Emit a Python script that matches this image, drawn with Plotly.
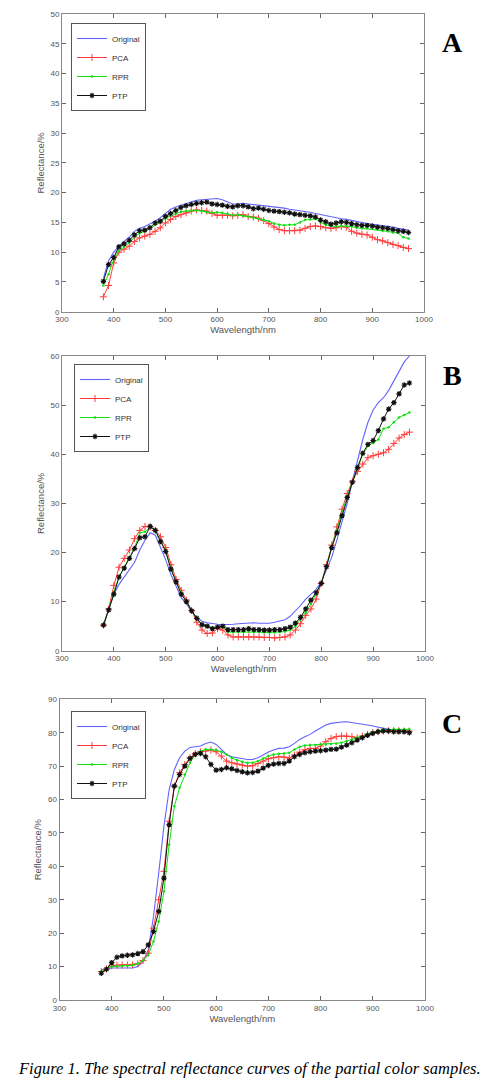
import plotly.graph_objects as go

wavelength = list(range(380, 980, 10))

# Panel A
a_original = [5.6, 8.5, 10.0, 11.0, 11.8, 12.5, 13.5, 14.0, 14.3, 14.7, 15.2, 15.8, 16.5, 17.2, 17.6, 17.9,
              18.2, 18.5, 18.7, 18.8, 18.9, 19.0, 19.0, 18.8, 18.4, 18.1, 18.1, 18.2, 18.1, 18.0, 18.0, 17.9,
              17.7, 17.6, 17.5, 17.4, 17.2, 17.1, 17.0, 16.8, 16.7, 16.5, 16.3, 16.1, 16.0, 15.8, 15.6, 15.5,
              15.3, 15.1, 15.0, 14.8, 14.7, 14.6, 14.5, 14.3, 14.2, 14.0, 13.9, 13.7]
a_pca = [2.5, 4.4, 8.2, 10.0, 10.5, 11.0, 11.8, 12.4, 12.7, 13.0, 13.5, 14.1, 14.9, 15.5, 16.0, 16.3,
         16.6, 16.9, 17.1, 17.0, 16.9, 16.5, 16.2, 16.2, 16.2, 16.1, 16.2, 16.3, 16.0, 15.9, 15.7, 15.3,
         14.8, 14.2, 13.8, 13.6, 13.6, 13.6, 13.7, 14.0, 14.3, 14.4, 14.3, 14.1, 14.0, 14.1, 14.3, 14.2,
         13.5, 13.2, 13.0, 12.9, 12.5, 12.1, 11.9, 11.6, 11.3, 11.1, 10.8, 10.6]
a_rpr = [4.4, 6.3, 8.8, 10.2, 10.9, 11.6, 12.5, 13.2, 13.5, 14.0, 14.6, 15.0, 15.7, 16.1, 16.5, 16.8,
         16.9, 17.0, 17.0, 16.9, 16.7, 16.6, 16.7, 16.6, 16.4, 16.2, 16.3, 16.1, 16.0, 15.8, 15.6, 15.4,
         15.2, 14.8, 14.6, 14.5, 14.6, 14.6, 15.0, 15.4, 15.5, 15.6, 15.0, 14.6, 14.4, 14.3, 14.4, 14.4,
         14.3, 14.1, 14.0, 14.0, 13.9, 13.8, 13.6, 13.5, 13.3, 13.2, 12.5, 12.3]
a_ptp = [5.1, 7.9, 9.1, 10.9, 11.4, 12.0, 12.9, 13.6, 13.7, 14.1, 14.9, 15.2, 16.0, 16.5, 17.0, 17.5,
         17.8, 18.0, 18.2, 18.3, 18.4, 18.1, 18.0, 17.9, 17.7, 17.6, 17.8, 17.8, 17.6, 17.3, 17.4, 17.2,
         17.0, 16.9, 16.8, 16.7, 16.6, 16.4, 16.3, 16.2, 16.1, 15.9, 15.4, 15.1, 14.7, 14.9, 15.1, 15.0,
         14.8, 14.6, 14.5, 14.5, 14.4, 14.2, 14.1, 14.0, 13.8, 13.6, 13.5, 13.3]

# Panel B
b_original = [5.3, 8.2, 11.5, 13.5, 15.0, 16.5, 18.0, 20.5, 22.5, 24.0, 23.5, 21.0, 18.5, 15.5, 13.0, 10.8,
              9.5, 8.0, 6.8, 6.0, 5.7, 5.5, 5.4, 5.3, 5.3, 5.4, 5.5, 5.6, 5.7, 5.7, 5.6, 5.6,
              5.6, 5.8, 6.0, 6.3, 7.0, 8.0, 9.2, 10.5, 11.5, 12.5, 14.0, 16.5, 19.0, 22.5, 26.0, 30.0,
              34.5, 39.0, 43.0, 46.5, 49.0, 50.5, 51.5, 53.0, 55.0, 57.0, 58.8, 60.0]
b_pca = [5.2, 8.5, 13.3, 17.0, 18.8, 20.5, 22.8, 24.5, 25.3, 25.2, 24.5, 23.2, 21.0, 17.5, 14.5, 12.3,
         10.3, 8.2, 5.8, 4.2, 3.5, 3.6, 4.5, 4.2, 3.2, 2.8, 2.8, 2.8, 2.8, 2.8, 2.8, 2.7,
         2.7, 2.6, 2.7, 2.8, 3.2, 4.2, 5.5, 7.2, 8.5, 10.5, 13.7, 17.5, 21.5, 25.2, 28.8, 32.0,
         34.5, 36.5, 38.0, 39.3, 39.7, 40.0, 40.3, 41.0, 42.2, 43.3, 44.0, 44.5]
b_rpr = [5.2, 8.2, 12.0, 15.0, 17.0, 19.0, 21.0, 24.0, 24.2, 25.2, 24.5, 22.3, 20.3, 16.8, 14.0, 11.8,
         10.0, 8.2, 6.4, 5.2, 4.8, 4.5, 4.8, 4.8, 3.8, 3.8, 3.8, 3.8, 3.9, 3.8, 3.8, 3.7,
         3.7, 3.7, 3.8, 3.9, 4.2, 5.0, 6.3, 7.8, 9.5, 11.5, 13.8, 17.2, 21.0, 24.5, 28.0, 31.5,
         34.3, 37.3, 40.0, 41.7, 42.3, 43.0, 45.2, 45.5, 46.5, 47.5, 48.0, 48.5]
b_ptp = [5.2, 8.3, 11.5, 15.0, 16.8, 18.8, 20.8, 23.0, 23.2, 25.3, 24.5, 22.2, 20.2, 16.6, 14.0, 11.5,
         10.0, 8.1, 6.6, 5.3, 5.0, 4.5, 4.8, 5.0, 4.3, 4.3, 4.3, 4.3, 4.5, 4.3, 4.3, 4.2,
         4.2, 4.3, 4.3, 4.5, 4.8, 5.6, 6.8, 8.5, 10.3, 11.8, 13.7, 17.1, 21.0, 24.0, 27.5, 31.2,
         34.3, 37.3, 40.2, 42.0, 42.8, 44.8, 47.2, 49.2, 50.5, 52.3, 54.1, 54.5]

# Panel C
c_original = [9.0, 9.3, 9.6, 9.6, 9.6, 9.6, 9.6, 10.0, 11.5, 15.0, 25.0, 38.0, 52.0, 63.0, 69.0, 72.5,
              74.5, 75.6, 75.8, 76.0, 76.8, 77.2, 76.5, 75.0, 73.5, 72.8, 72.5, 72.2, 72.0, 72.0, 72.5, 73.3,
              74.2, 74.8, 75.3, 75.4, 75.8, 76.8, 78.0, 78.8, 79.5, 80.5, 81.5, 82.3, 82.8, 83.1, 83.2, 83.3,
              83.1, 82.8, 82.6, 82.3, 82.0, 81.6, 81.3, 81.0, 80.8, 80.7, 80.6, 80.5]
c_pca = [8.5, 9.3, 10.2, 10.4, 10.5, 10.5, 10.5, 10.8, 11.8, 14.0, 21.5, 30.0, 38.5, 53.5, 64.0, 68.0,
         70.5, 72.5, 73.8, 74.3, 74.5, 74.8, 74.3, 73.0, 71.5, 71.0, 70.6, 70.3, 70.0, 70.1, 70.8, 71.5,
         72.2, 72.5, 72.8, 72.7, 72.4, 73.3, 74.2, 74.9, 75.3, 75.3, 76.0, 77.3, 78.3, 78.8, 79.0, 79.0,
         78.8, 78.5, 79.0, 79.5, 80.0, 80.3, 80.5, 80.6, 80.6, 80.6, 80.5, 80.5]
c_rpr = [8.5, 9.5, 10.0, 10.1, 10.2, 10.3, 10.4, 10.9, 11.8, 13.5, 17.5, 23.5, 32.5, 46.5, 58.0, 63.5,
         67.5, 71.0, 73.5, 74.5, 75.0, 75.0, 74.8, 74.3, 73.5, 72.4, 71.8, 71.3, 71.0, 71.0, 71.5, 72.3,
         73.0, 73.5, 73.7, 73.8, 74.0, 75.0, 75.8, 76.2, 76.3, 76.3, 76.5, 76.5, 76.6, 76.7, 77.0, 77.5,
         78.0, 78.5, 79.0, 79.6, 80.2, 80.6, 80.9, 81.0, 81.0, 81.0, 81.0, 81.0]
c_ptp = [8.0, 9.2, 11.2, 12.8, 13.2, 13.4, 13.5, 13.9, 14.5, 16.5, 20.5, 26.5, 36.5, 52.5, 64.0, 67.5,
         70.0, 72.3, 73.5, 73.8, 72.8, 70.5, 68.8, 69.0, 69.5, 69.2, 68.7, 68.3, 68.0, 68.1, 68.5, 69.4,
         70.2, 70.6, 70.8, 70.8, 71.5, 72.8, 73.5, 74.0, 74.3, 74.5, 74.6, 74.8, 75.0, 75.1, 75.7, 76.3,
         77.0, 77.8, 78.5, 79.2, 79.8, 80.3, 80.5, 80.5, 80.3, 80.3, 80.3, 80.0]

panel_labels = ["A", "B", "C"]
y_ranges = [(0, 50, 5), (0, 60, 10), (0, 90, 10)]
x_ticks = [300, 400, 500, 600, 700, 800, 900, 1000]
caption = "Figure 1. The spectral reflectance curves of the partial color samples."

W, H = 497, 1089
panels = [
    dict(data=(a_original, a_pca, a_rpr, a_ptp), box=(62, 424, 14, 311.7), leg=(71, 23), lab=43),
    dict(data=(b_original, b_pca, b_rpr, b_ptp), box=(62, 425, 356, 650.7), leg=(74, 364), lab=375),
    dict(data=(c_original, c_pca, c_rpr, c_ptp), box=(59.5, 425, 699.3, 1000), leg=(71, 711), lab=723),
]

c_blue = "#6262ff"
c_red = "#ff3b3b"
c_green = "#10e010"
c_black = "#111111"
names = ["Original", "PCA", "RPR", "PTP"]

fig = go.Figure()
layout = dict(width=W, height=H, margin=dict(l=0, r=0, t=0, b=0, autoexpand=False),
              paper_bgcolor="white", plot_bgcolor="white", showlegend=True,
              font=dict(family="Liberation Sans, Arial", size=8, color="#555"))
annotations = []

for i, p in enumerate(panels):
    k = "" if i == 0 else str(i + 1)
    xa, ya = "x" + k, "y" + k
    leg = "legend" + k
    orig, pca, rpr, ptp = p["data"]
    fig.add_trace(go.Scatter(x=wavelength, y=orig, name=names[0], mode="lines",
                             line=dict(color=c_blue, width=1.1), xaxis=xa, yaxis=ya, legend=leg))
    fig.add_trace(go.Scatter(x=wavelength, y=pca, name=names[1], mode="lines+markers",
                             line=dict(color=c_red, width=1),
                             marker=dict(symbol="cross-thin", size=5, line=dict(color=c_red, width=1)),
                             xaxis=xa, yaxis=ya, legend=leg))
    fig.add_trace(go.Scatter(x=wavelength, y=rpr, name=names[2], mode="lines+markers",
                             line=dict(color=c_green, width=1),
                             marker=dict(symbol="circle", size=2.5, color=c_green),
                             xaxis=xa, yaxis=ya, legend=leg))
    fig.add_trace(go.Scatter(x=wavelength, y=ptp, name=names[3], mode="lines+markers",
                             line=dict(color=c_black, width=1),
                             marker=dict(symbol="asterisk", size=4.5, line=dict(color=c_black, width=1.2)),
                             xaxis=xa, yaxis=ya, legend=leg))
    x0, x1, y0, y1 = p["box"]
    ymin, ymax, ystep = y_ranges[i]
    axis_common = dict(showline=True, linecolor="#888", linewidth=1, mirror="allticks",
                       ticks="inside", ticklen=4, tickcolor="#666", showgrid=False, zeroline=False,
                       automargin=False, tickfont=dict(size=8, color="#555"))
    layout["xaxis" + k] = dict(domain=[x0 / W, x1 / W], range=[300, 1000], tickvals=x_ticks,
                               anchor=ya, title=dict(text="Wavelength/nm", font=dict(size=9.5, color="#555"), standoff=0),
                               **axis_common)
    layout["yaxis" + k] = dict(domain=[1 - y1 / H, 1 - y0 / H], range=[ymin, ymax], dtick=ystep,
                               anchor=xa, title=dict(text="Reflectance/%", font=dict(size=9.5, color="#555"), standoff=4),
                               **axis_common)
    lx, ly = p["leg"]
    layout[leg] = dict(x=lx / W, y=1 - ly / H, xanchor="left", yanchor="top",
                       bgcolor="white", bordercolor="#555", borderwidth=1,
                       font=dict(size=8, color="#333"), tracegroupgap=0, itemwidth=30)
    annotations.append(dict(text="<b>%s</b>" % panel_labels[i], xref="paper", yref="paper",
                            x=452 / W, y=1 - p["lab"] / H, xanchor="center", yanchor="middle", showarrow=False,
                            font=dict(family="Liberation Serif, Times New Roman", size=28, color="black")))

annotations.append(dict(text="<i>%s</i>" % caption, xref="paper", yref="paper",
                        x=250 / W, y=1 - 1068 / H, xanchor="center", yanchor="middle", showarrow=False,
                        font=dict(family="Liberation Serif, Times New Roman", size=16.5, color="black")))
layout["annotations"] = annotations
fig.update_layout(**layout)
fig.write_html("out.html", config={"displayModeBar": False},
               post_script="document.body.style.margin='0';document.body.style.overflow='hidden';")
